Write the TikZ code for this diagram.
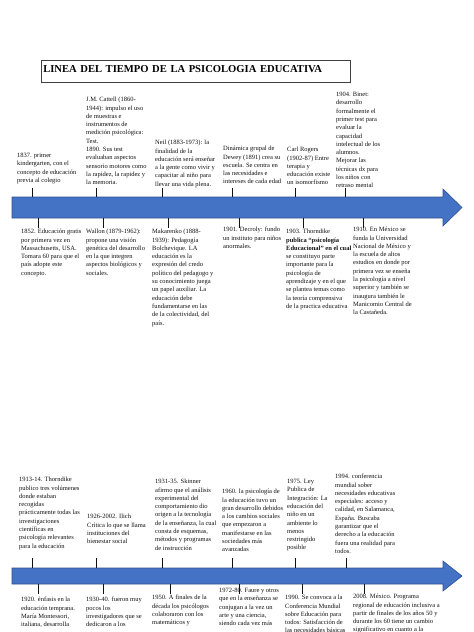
\documentclass[tikz,border=0pt]{standalone}
\usepackage{fontspec}
\setmainfont{Liberation Serif}
\usetikzlibrary{calc}
\definecolor{ink}{HTML}{111111}
\definecolor{barra}{HTML}{4472C4}
\definecolor{barraedge}{HTML}{2F528F}
\definecolor{marco}{HTML}{404040}

\begin{document}
\begin{tikzpicture}[
  x=1pt, y=-1pt,
  evento/.style={anchor=north west, inner sep=0pt, align=left, text=ink,
                 font=\fontsize{6.5}{8.3}\selectfont},
  negrita/.style={font=\fontsize{6.5}{8.3}\selectfont\bfseries},
  marca/.style={draw=ink, line width=1pt},
  flecha/.style={fill=barra, draw=barraedge, line width=.6pt},
  titulo/.style={draw=marco, line width=.6pt, anchor=north west, align=left,
                 text width=305pt, inner xsep=2pt, inner ysep=5pt,
                 text height=7.5pt, text depth=4.5pt,
                 font=\fontsize{10.6}{12}\selectfont\bfseries}
]
\useasboundingbox (0,0) rectangle (474,632);
\clip (0,0) rectangle (474,632);

\node[titulo] (titulo) at (41,60) {LINEA DEL TIEMPO DE LA PSICOLOGIA EDUCATIVA};

% Primera linea del tiempo.
\draw[flecha] (12,197) -- (443,197) -- (443,189) -- (462,207.5)
  -- (443,226) -- (443,218) -- (12,218) -- cycle;

\node[evento] (n1837) at (17,153) {1837. primer\\kindergarten, con el\\concepto de educación\\previa al colegio};
\node[evento] (ncattell) at (86,97) {J.M. Cattell (1860-\\1944): impulso el uso\\de muestras e\\instrumentos de\\medición psicológica:\\Test.\\1890. Sus test\\evaluaban aspectos\\sensorio motores como\\la rapidez, la rapidez y\\la memoria.};
\node[evento] (nneil) at (155,140) {Neil (1883-1973): la\\finalidad de la\\educación será enseñar\\a la gente como vivir y\\capacitar al niño para\\llevar una vida plena.};
\node[evento] (ndewey) at (223,146) {Dinámica grupal de\\Dewey (1891) crea su\\escuela. Se centra en\\las necesidades e\\intereses de cada edad};
\node[evento] (nrogers) at (287,147) {Carl Rogers\\(1902-87) Entre\\terapia y\\educación existe\\un isomorfismo};
\node[evento] (nbinet) at (336,92) {1904. Binet:\\desarrollo\\formalmente el\\primer test para\\evaluar la\\capacidad\\intelectual de los\\alumnos.\\Mejorar las\\técnicas dx para\\los niños con\\retraso mental};

\node[evento] (n1852) at (21,229) {1852. Educación gratis\\por primera vez en\\Massachusetts, USA.\\Tomara 60 para que el\\país adopte este\\concepto.};
\node[evento] (nwallon) at (86,229) {Wallon (1879-1962):\\propone una visión\\genética del desarrollo\\en la que integren\\aspectos biológicos y\\sociales.};
\node[evento] (nmakarenko) at (152,229) {Makarenko (1888-\\1939): Pedagogía\\Bolchevique. LA\\educación es la\\expresión del credo\\político del pedagogo y\\su conocimiento juega\\un papel auxiliar. La\\educación debe\\fundamentarse en las\\de la colectividad, del\\país.};
\node[evento] (ndecroly) at (223,227) {1901. Decroly: fundo\\un instituto para niños\\anormales.};
\node[evento] (nthorndike) at (286,229) {1903. Thorndike\\{\bfseries publica ``psicología}\\{\bfseries Educacional'' en el cual}\\se constituyo parte\\importante para la\\psicología de\\aprendizaje y en el que\\se plantea temas como\\la teoría comprensiva\\de la practica educativa};
\node[evento] (n1910) at (353,227) {1910. En México se\\funda la Universidad\\Nacional de México y\\la escuela de altos\\estudios en donde por\\primera vez se enseña\\la psicología a nivel\\superior y también se\\inaugura también le\\Manicomio Central de\\la Castañeda.};

\foreach \x in {32,96,162,232,295,345}
  \draw[marca] (\x,197) -- ++(0,-9);
\foreach \x in {38,103,168,239,303,363}
  \draw[marca] (\x,218) -- ++(0,10);

% Segunda linea del tiempo.
\draw[flecha] (12,568) -- (443,568) -- (443,561) -- (462,576)
  -- (443,591) -- (443,584) -- (12,584) -- cycle;

\node[evento] (n1913) at (19,477) {1913-14. Thorndike\\publico tres volúmenes\\donde estaban\\recogidas\\prácticamente todas las\\investigaciones\\científicas en\\psicología relevantes\\para la educación};
\node[evento] (nilich) at (87,514) {1926-2002. Ilich\\Crítica lo que se llama\\instituciones del\\bienestar social};
\node[evento] (nskinner) at (155,479) {1931-35. Skinner\\afirmo que el análisis\\experimental del\\comportamiento dio\\origen a la tecnología\\de la enseñanza, la cual\\consta de esquemas,\\métodos y programas\\de instrucción};
\node[evento] (n1960) at (222,489) {1960. la psicología de\\la educación tuvo un\\gran desarrollo debidos\\a los cambios sociales\\que empezaron a\\manifestarse en las\\sociedades más\\avanzadas};
\node[evento] (n1975) at (287,479) {1975. Ley\\Publica de\\Integración: La\\educación del\\niño en un\\ambiente lo\\menos\\restringido\\posible};
\node[evento] (n1994) at (335,474) {1994. conferencia\\mundial sober\\necesidades educativas\\especiales: acceso y\\calidad, en Salamanca,\\España. Buscaba\\garantizar que el\\derecho a la educación\\fuera una realidad para\\todos.};

\node[evento] (n1920) at (21,597) {1920. énfasis en la\\educación temprana.\\María Montessori,\\italiana, desarrolla};
\node[evento] (n1930) at (86,597) {1930-40. fueron muy\\pocos los\\investigadores que se\\dedicaron a los};
\node[evento] (n1950) at (152,595) {1950. A finales de la\\década los psicólogos\\colaboraron con los\\matemáticos y};
\node[evento] (n1972) at (219,588) {1972-80. Faure y otros\\que en la enseñanza se\\conjugan a la vez un\\arte y una ciencia,\\siendo cada vez más};
\node[evento] (n1990) at (285,595) {1990. Se convoca a la\\Conferencia Mundial\\sobre Educación para\\todos: Satisfacción de\\las necesidades básicas};
\node[evento] (n2008) at (353,594) {2008. México. Programa\\regional de educación inclusiva a\\partir de finales de los años 50 y\\durante los 60 tiene un cambio\\significativo en cuanto a la};

\foreach \x in {32,96,162,232,295,346}
  \draw[marca] (\x,568) -- ++(0,-10);
\foreach \x in {38,103,170,239,302,364}
  \draw[marca] (\x,584) -- ++(0,10);

\end{tikzpicture}
\end{document}
